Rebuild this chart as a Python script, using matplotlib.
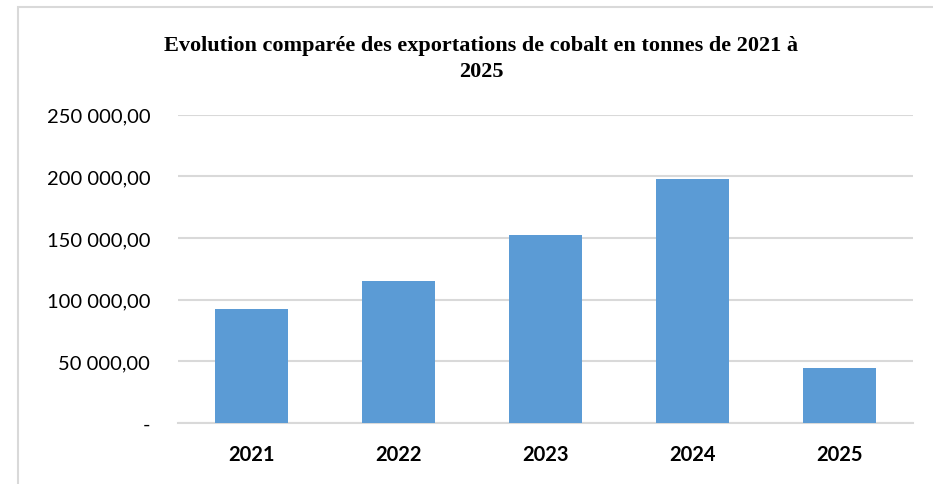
import matplotlib
matplotlib.use('Agg')
from matplotlib import pyplot as plt
from matplotlib.ticker import FuncFormatter, MultipleLocator
import matplotlib.patches as patches

years = ['2021', '2022', '2023', '2024', '2025']
exports = [92700, 115100, 152300, 198100, 44200]

title = "Evolution comparée des exportations de cobalt en tonnes de 2021 à\n2025"


def fr_format(v, pos):
    if abs(v) < 1e-9:
        return '-'
    s = '{:,.2f}'.format(v)
    return s.replace(',', ' ').replace('.', ',')


fig = plt.figure(figsize=(9.33, 4.85), dpi=100)
ax = fig.add_axes([178 / 933, 1 - 424 / 485, 735 / 933, (424 - 115.7) / 485])

# chart frame (light grey, partly cut off on right/bottom)
frame = patches.Rectangle((18 / 933, -0.1), 1.2, 1 - 8 / 485 + 0.1,
                          transform=fig.transFigure, fill=False,
                          edgecolor='#d9d9d9', linewidth=1.5)
fig.patches.append(frame)

x = range(len(years))
ax.bar(x, exports, width=0.49, color='#5b9bd5', zorder=3)

ax.set_xlim(-0.5, len(years) - 0.5)
ax.set_ylim(0, 250000)
ax.yaxis.set_major_locator(MultipleLocator(50000))
ax.yaxis.set_major_formatter(FuncFormatter(fr_format))
ax.grid(axis='y', color='#d9d9d9', linewidth=1.5, zorder=0)
ax.set_xticks(list(x))
ax.set_xticklabels(years, fontfamily='Lato', fontweight='bold', fontsize=14.5)
for lbl in ax.get_yticklabels():
    lbl.set_fontfamily('Lato')
    lbl.set_fontsize(14.5)
ax.tick_params(axis='y', length=0, pad=20)
ax.tick_params(axis='x', length=0, pad=15)
for side in ['top', 'right', 'left']:
    ax.spines[side].set_visible(False)
ax.spines['bottom'].set_color('#d9d9d9')
ax.spines['bottom'].set_linewidth(1.5)

fig.text(481 / 933, 1 - 59 / 485, title, ha='center', va='center',
         fontfamily='Liberation Serif', fontweight='bold', fontsize=16,
         linespacing=1.45)

fig.savefig('out.png', dpi=100)
